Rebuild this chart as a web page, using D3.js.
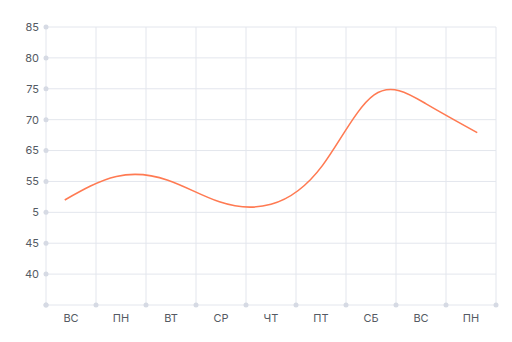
<!DOCTYPE html>
<html>
<head>
    <meta charset="utf-8">
    <title>Line chart</title>
    <style type="text/css">
        body {
            margin: 0;
            background: #fff;
            font-family: Inter, "Noto Sans", sans-serif;
        }
        .tick-label {
            font-size: 11px;
            fill: #555a63;
        }
    </style>
</head>
<body>
    <script src="https://cdn.jsdelivr.net/npm/d3@7"></script>
    <script>
        // days on the x axis
        var days = ["ВС", "ПН", "ВТ", "СР", "ЧТ", "ПТ", "СБ", "ВС", "ПН"];
        // line values, one per day
        var values = [57.0, 60.8, 60.2, 56.7, 56.3, 62.6, 74.0, 72.6, 67.9];
        // y tick positions and the labels as printed
        var yTickValues = [85, 80, 75, 70, 65, 60, 55, 50, 45];
        var yTickLabels = ["85", "80", "75", "70", "65", "55", "5", "45", "40"];

        var width = 512, height = 342;
        var margin = { top: 27, right: 16, bottom: 37, left: 46 };
        var innerW = width - margin.left - margin.right,
            innerH = height - margin.top - margin.bottom;

        var svg = d3.select("body").append("svg")
            .attr("width", width)
            .attr("height", height);

        var g = svg.append("g")
            .attr("transform", "translate(" + margin.left + "," + margin.top + ")");

        var x = d3.scaleBand()
            .domain(d3.range(days.length))
            .range([0, innerW]);

        // the line is a bit wider than the band centres
        var xLine = d3.scalePoint()
            .domain(d3.range(values.length))
            .range([x.bandwidth() * 0.375, innerW - x.bandwidth() * 0.375]);

        var y = d3.scaleLinear()
            .domain([40, 85])
            .range([innerH, 0]);

        var gridColor = "#e3e6ed";
        var dotColor = "#d6dae4";

        // horizontal grid
        var hLines = yTickValues.concat([40]);
        g.selectAll(".hgrid")
            .data(hLines)
            .enter().append("line")
            .attr("x1", 0)
            .attr("x2", innerW)
            .attr("y1", function (d) { return y(d); })
            .attr("y2", function (d) { return y(d); })
            .attr("stroke", gridColor)
            .attr("stroke-width", 1);

        // vertical grid at band edges
        var vEdges = d3.range(days.length + 1);
        g.selectAll(".vgrid")
            .data(vEdges)
            .enter().append("line")
            .attr("x1", function (d) { return d * x.step(); })
            .attr("x2", function (d) { return d * x.step(); })
            .attr("y1", 0)
            .attr("y2", innerH)
            .attr("stroke", gridColor)
            .attr("stroke-width", 1);

        // dots on the axes
        g.selectAll(".ydot")
            .data(hLines)
            .enter().append("circle")
            .attr("cx", 0)
            .attr("cy", function (d) { return y(d); })
            .attr("r", 2.5)
            .attr("fill", dotColor);

        g.selectAll(".xdot")
            .data(vEdges)
            .enter().append("circle")
            .attr("cx", function (d) { return d * x.step(); })
            .attr("cy", innerH)
            .attr("r", 2.5)
            .attr("fill", dotColor);

        // y labels
        g.selectAll(".ylab")
            .data(yTickValues)
            .enter().append("text")
            .attr("class", "tick-label")
            .attr("x", -7)
            .attr("y", function (d) { return y(d); })
            .attr("dy", "0.35em")
            .attr("text-anchor", "end")
            .text(function (d, i) { return yTickLabels[i]; });

        // x labels
        g.selectAll(".xlab")
            .data(days)
            .enter().append("text")
            .attr("class", "tick-label")
            .attr("x", function (d, i) { return x(i) + x.bandwidth() / 2; })
            .attr("y", innerH + 17)
            .attr("text-anchor", "middle")
            .text(function (d) { return d; });

        // the curve
        var line = d3.line()
            .x(function (d, i) { return xLine(i); })
            .y(function (d) { return y(d); })
            .curve(d3.curveNatural);

        g.append("path")
            .datum(values)
            .attr("fill", "none")
            .attr("stroke", "#ff7a52")
            .attr("stroke-width", 1.6)
            .attr("d", line);
    </script>
</body>
</html>
